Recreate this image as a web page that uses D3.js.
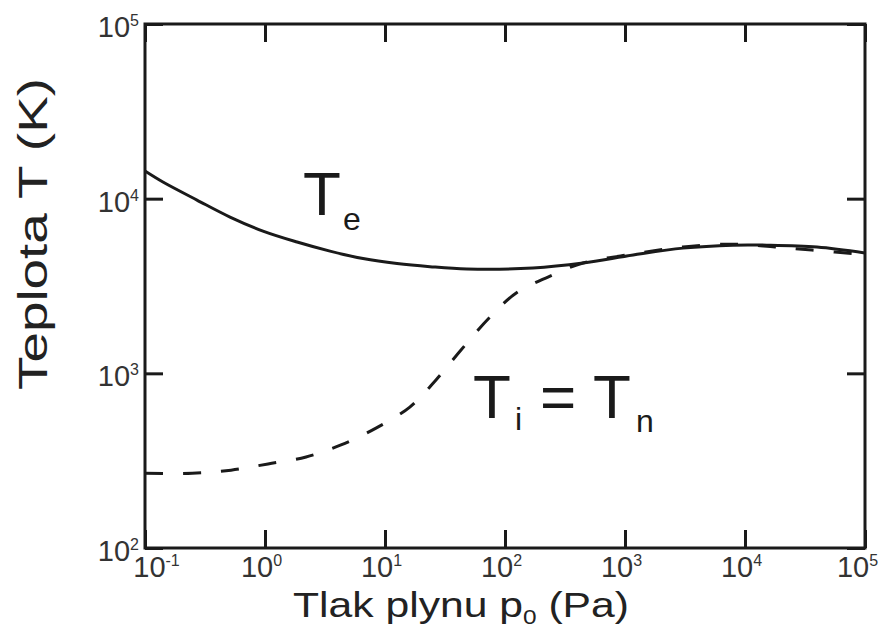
<!DOCTYPE html>
<html><head><meta charset="utf-8">
<script src="https://cdn.jsdelivr.net/npm/d3@7"></script>
<style>body{margin:0;background:#fff}svg{display:block}text{font-family:"Liberation Sans",Arial,sans-serif}</style>
</head><body>
<svg id="c" width="879" height="630"></svg>
<script>
// Data
const xTickExps = [-1, 0, 1, 2, 3, 4, 5];
const yTickExps = [2, 3, 4, 5];
const teP = [0.1, 0.141, 0.271, 0.511, 0.962, 1.85, 3.48, 6.56, 12.6, 23.7, 48.2, 171, 447, 1170, 3040, 7940, 15200, 39800, 100000];
const teT = [14390, 12450, 9820, 7850, 6525, 5650, 5010, 4540, 4250, 4080, 3960, 4010, 4280, 4760, 5210, 5420, 5420, 5290, 4890];
const tiP = [0.1, 0.247, 0.521, 1.06, 2.2, 4.3, 8.41, 16.1, 26.6, 43.0, 75.0, 124, 228, 447, 1170, 3040, 7940, 17800, 36100, 100000];
const tiT = [268, 268, 279, 303, 332, 389, 486, 641, 916, 1360, 2100, 2880, 3560, 4280, 4820, 5290, 5490, 5290, 5080, 4770];

const svg = d3.select("#c");
const L = 145, R = 865, T = 24, B = 548;
const x = d3.scaleLog().domain([0.1, 1e5]).range([L, R]);
const y = d3.scaleLog().domain([100, 1e5]).range([B, T]);
const ink = "#1a1a1a";

// curves
const line = d3.line().x(d => x(d[0])).y(d => y(d[1])).curve(d3.curveCatmullRom.alpha(0.5));
svg.append("clipPath").attr("id","pc").append("rect").attr("x",L).attr("y",T).attr("width",R-L).attr("height",B-T);
svg.append("path").datum(tiP.map((p,i)=>[p,tiT[i]])).attr("d", line)
  .attr("fill","none").attr("stroke",ink).attr("stroke-width",3).attr("stroke-dasharray","18,20").attr("clip-path","url(#pc)");
svg.append("path").datum(teP.map((p,i)=>[p,teT[i]])).attr("d", line)
  .attr("fill","none").attr("stroke",ink).attr("stroke-width",3).attr("clip-path","url(#pc)");

// axes (ticks inward, on all four sides)
const tl = 18;
const xt = xTickExps.map(e => Math.pow(10, e));
const yt = yTickExps.map(e => Math.pow(10, e));
function styleAxis(g){ g.select(".domain").remove(); g.selectAll("line").attr("stroke",ink).attr("stroke-width",3); g.selectAll("text").remove(); }
svg.append("g").attr("transform",`translate(0,${B})`).call(d3.axisBottom(x).tickValues(xt).tickSizeInner(-tl).tickSizeOuter(0)).call(styleAxis);
svg.append("g").attr("transform",`translate(0,${T})`).call(d3.axisTop(x).tickValues(xt).tickSizeInner(-tl).tickSizeOuter(0)).call(styleAxis);
svg.append("g").attr("transform",`translate(${L},0)`).call(d3.axisLeft(y).tickValues(yt).tickSizeInner(-tl).tickSizeOuter(0)).call(styleAxis);
svg.append("g").attr("transform",`translate(${R},0)`).call(d3.axisRight(y).tickValues(yt).tickSizeInner(-tl).tickSizeOuter(0)).call(styleAxis);
svg.append("rect").attr("x",L).attr("y",T).attr("width",R-L).attr("height",B-T)
  .attr("fill","none").attr("stroke",ink).attr("stroke-width",3);

// tick labels
const lab = "#333";
xTickExps.forEach((e,i) => {
  let dx = -3.5; if (i===0) dx = 11.5; if (i===xTickExps.length-1) dx = -7.5;
  const t = svg.append("text").attr("x", x(Math.pow(10,e)) + dx).attr("y", 577)
    .attr("text-anchor","middle").attr("font-size",29).attr("fill",lab);
  t.append("tspan").text("10");
  t.append("tspan").attr("dy",-11).attr("font-size",16).text(e<0 ? "-" + (-e) : String(e));
});
yTickExps.forEach(e => {
  const t = svg.append("text").attr("x", 139).attr("y", y(Math.pow(10,e)) + 13)
    .attr("text-anchor","end").attr("font-size",29).attr("fill",lab);
  t.append("tspan").text("10");
  t.append("tspan").attr("dy",-11).attr("font-size",16).text(String(e));
});

// axis titles
const xt1 = svg.append("text").attr("x",293).attr("y",617).attr("font-size",35).attr("fill","#222")
  .attr("textLength",336).attr("lengthAdjust","spacingAndGlyphs");
xt1.append("tspan").text("Tlak plynu p");
xt1.append("tspan").attr("dy",7).attr("font-size",20).text("0");
xt1.append("tspan").attr("dy",-7).text(" (Pa)");
svg.append("text").attr("transform","translate(47,390) rotate(-90)").attr("font-size",40).attr("fill","#222")
  .attr("textLength",312).attr("lengthAdjust","spacingAndGlyphs").text("Teplota T (K)");

// annotations
function ann(xp, yp, s, fs){ svg.append("text").attr("x",xp).attr("y",yp).attr("font-size",fs).attr("fill",ink).text(s); }
ann(303, 215, "T", 62);
ann(343, 230, "e", 32);
ann(473, 418, "T", 62);
ann(515, 430, "i", 32);
ann(540, 418, "=", 62);
ann(593, 418, "T", 62);
ann(636, 432, "n", 32);
</script>
</body></html>
